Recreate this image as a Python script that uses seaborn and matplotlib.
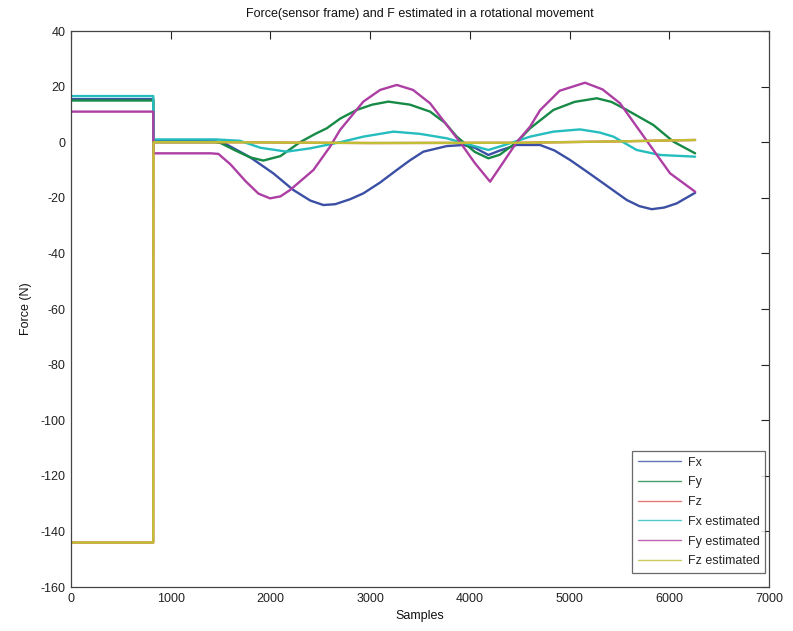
import matplotlib
matplotlib.use("Agg")
import matplotlib.pyplot as plt
import seaborn as sns
import pandas as pd

# ---- data ----
fx_x = [0, 825, 827, 1450, 1545, 1800, 2029, 2230, 2400, 2531, 2650, 2800, 2932, 3100,
        3267, 3400, 3534, 3768, 3935, 4050, 4186, 4300, 4470, 4704, 4850, 5005, 5170,
        5339, 5574, 5700, 5824, 5950, 6075, 6259]
fx_y = [15.5, 15.5, 0.5, 0.3, -0.5, -5.5, -11.2, -17.2, -21.0, -22.6, -22.3, -20.5, -18.4,
        -14.5, -10.0, -6.5, -3.4, -1.4, -1.0, -2.0, -4.6, -3.0, -1.0, -1.0, -3.0, -6.4,
        -10.5, -14.8, -20.8, -23.0, -24.1, -23.5, -22.0, -18.2]

fy_x = [0, 825, 827, 1450, 1500, 1650, 1800, 1929, 2100, 2297, 2450, 2565, 2700, 2865,
        3020, 3183, 3400, 3601, 3750, 3869, 4050, 4186, 4300, 4470, 4604, 4838, 5050,
        5273, 5420, 5574, 5840, 6041, 6259]
fy_y = [15.0, 15.0, 0.0, 0.0, -0.3, -3.0, -5.5, -6.6, -5.0, 0.0, 3.0, 5.0, 8.5, 11.6,
        13.5, 14.6, 13.5, 11.0, 7.0, 2.0, -3.5, -5.8, -4.5, 0.0, 5.0, 11.6, 14.5,
        15.8, 14.5, 11.6, 6.2, 0.2, -4.0]

fz_x = [0, 825, 827, 1500, 3000, 4500, 5500, 6259]
fz_y = [-144.0, -144.0, 0.0, 0.0, -0.3, -0.2, 0.3, 0.8]

fxe_x = [0, 825, 827, 1450, 1695, 1900, 2163, 2400, 2700, 2932, 3233, 3500, 3768, 3935,
         4186, 4350, 4604, 4838, 5105, 5300, 5440, 5673, 5908, 6259]
fxe_y = [16.6, 16.6, 1.0, 1.0, 0.5, -2.0, -3.4, -2.2, 0.0, 2.0, 3.8, 3.0, 1.4, -0.3,
         -2.8, -1.0, 2.0, 3.8, 4.6, 3.5, 2.0, -2.8, -4.6, -5.2]

fye_x = [0, 825, 827, 1400, 1478, 1600, 1750, 1880, 1996, 2100, 2197, 2431, 2598, 2698,
         2932, 3100, 3267, 3430, 3601, 3768, 3902, 4050, 4203, 4330, 4470, 4604, 4704,
         4900, 5155, 5330, 5506, 5673, 5840, 6008, 6259]
fye_y = [11.0, 11.0, -4.0, -4.0, -4.2, -8.0, -14.0, -18.5, -20.2, -19.5, -17.2, -10.0,
         -1.6, 4.4, 14.6, 18.8, 20.6, 18.8, 14.0, 6.2, 0.0, -7.5, -14.2, -7.5, 0.0, 5.6,
         11.5, 18.5, 21.4, 19.0, 14.0, 5.6, -2.8, -11.2, -17.8]

fze_x = [0, 825, 827, 1500, 3000, 4500, 5500, 6259]
fze_y = [-144.0, -144.0, 0.0, 0.0, -0.3, -0.2, 0.3, 0.8]

labels = ["Fx", "Fy", "Fz", "Fx estimated", "Fy estimated", "Fz estimated"]
colors = ["#3b4fa5", "#178a46", "#e05555", "#25bdbd", "#ad3ea3", "#c0bf35"]

series = [(fx_x, fx_y), (fy_x, fy_y), (fz_x, fz_y),
          (fxe_x, fxe_y), (fye_x, fye_y), (fze_x, fze_y)]
frames = []
for lab, (xs, ys) in zip(labels, series):
    frames.append(pd.DataFrame({"Samples": xs, "Force": ys, "series": lab}))
df = pd.concat(frames, ignore_index=True)

sns.set_theme(style="white")
plt.rcParams["font.family"] = ["Liberation Sans", "DejaVu Sans"]
plt.rcParams["axes.unicode_minus"] = False

fig = plt.figure(figsize=(7.93, 6.31), dpi=100)
ax = fig.add_axes([71 / 793, 1 - 587 / 631, 698 / 793, 556 / 631])

sns.lineplot(data=df, x="Samples", y="Force", hue="series", hue_order=labels,
             palette=dict(zip(labels, colors)), linewidth=1.7, ax=ax,
             estimator=None, sort=False, legend=True)
# the true Fz lies under its estimate; keep it thin so it stays hidden
for ln in ax.get_lines():
    if ln.get_label() == "Fz":
        ln.set_linewidth(0.8)

ax.set_xlim(0, 7000)
ax.set_ylim(-160, 40)
ax.set_xticks(range(0, 7001, 1000))
ax.set_yticks(range(-160, 41, 20))
ax.tick_params(direction="in", length=6, width=0.8, top=True, right=True,
               labelsize=9, colors="#222222", pad=4)
for sp in ax.spines.values():
    sp.set_visible(True)
    sp.set_color("#444444")
    sp.set_linewidth(0.9)

ax.set_title("Force(sensor frame) and F estimated in a rotational movement",
             fontsize=9, color="#111111", pad=10)
ax.set_xlabel("Samples", fontsize=9, color="#111111", labelpad=4)
ax.set_ylabel("Force (N)", fontsize=9, color="#111111", labelpad=6)

handles, labs = ax.get_legend_handles_labels()
leg = ax.legend(handles, labs, loc="lower right", bbox_to_anchor=(0.9943, 0.0252),
                borderaxespad=0, fontsize=9, frameon=True, fancybox=False,
                handlelength=3.5, handletextpad=0.5, labelspacing=0.62,
                borderpad=0.45)
leg.get_frame().set_edgecolor("#444444")
leg.get_frame().set_linewidth(0.9)
for ln in leg.get_lines():
    ln.set_linewidth(1.0)
    ln.set_alpha(0.8)

fig.savefig("out.png", dpi=100)
